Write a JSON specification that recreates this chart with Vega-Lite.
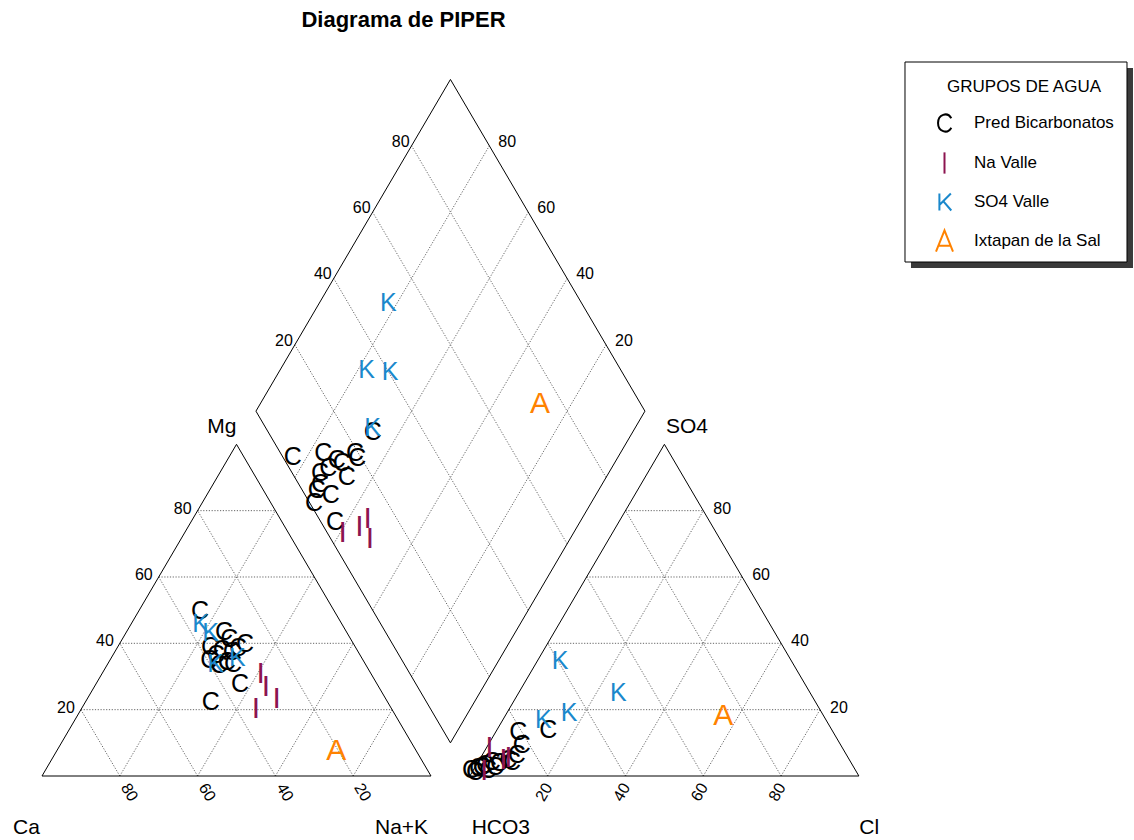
{
  "$schema": "https://vega.github.io/schema/vega-lite/v6.json",
  "width": 1134,
  "height": 800,
  "autosize": "none",
  "padding": {"top": 40, "left": 0, "right": 0, "bottom": 0},
  "background": "white",
  "title": {
    "text": "Diagrama de PIPER",
    "anchor": "middle",
    "frame": "group",
    "dx": -163.5,
    "offset": -9,
    "baseline": "alphabetic",
    "font": "Liberation Sans",
    "fontSize": 22,
    "fontWeight": "bold",
    "color": "#000000"
  },
  "datasets": {
    "muestras": [
      {"grupo": "Pred Bicarbonatos", "letra": "C", "x": 40.62, "y": 43.16},
      {"grupo": "Pred Bicarbonatos", "letra": "C", "x": 46.79, "y": 37.52},
      {"grupo": "Pred Bicarbonatos", "letra": "C", "x": 48.15, "y": 35.69},
      {"grupo": "Pred Bicarbonatos", "letra": "C", "x": 52.19, "y": 34.46},
      {"grupo": "Pred Bicarbonatos", "letra": "C", "x": 50.39, "y": 33.42},
      {"grupo": "Pred Bicarbonatos", "letra": "C", "x": 43.19, "y": 33.60},
      {"grupo": "Pred Bicarbonatos", "letra": "C", "x": 46.20, "y": 32.90},
      {"grupo": "Pred Bicarbonatos", "letra": "C", "x": 48.77, "y": 32.45},
      {"grupo": "Pred Bicarbonatos", "letra": "C", "x": 43.01, "y": 30.29},
      {"grupo": "Pred Bicarbonatos", "letra": "C", "x": 47.48, "y": 29.84},
      {"grupo": "Pred Bicarbonatos", "letra": "C", "x": 44.73, "y": 31.59},
      {"grupo": "Pred Bicarbonatos", "letra": "C", "x": 49.10, "y": 29.24},
      {"grupo": "Pred Bicarbonatos", "letra": "C", "x": 50.90, "y": 24.02},
      {"grupo": "Pred Bicarbonatos", "letra": "C", "x": 43.37, "y": 19.40},
      {"grupo": "Pred Bicarbonatos", "letra": "C", "x": 45.50, "y": 28.98},
      {"grupo": "Pred Bicarbonatos", "letra": "C", "x": 64.45, "y": 83.21},
      {"grupo": "Pred Bicarbonatos", "letra": "C", "x": 85.01, "y": 89.90},
      {"grupo": "Pred Bicarbonatos", "letra": "C", "x": 72.31, "y": 84.26},
      {"grupo": "Pred Bicarbonatos", "letra": "C", "x": 75.76, "y": 82.51},
      {"grupo": "Pred Bicarbonatos", "letra": "C", "x": 77.04, "y": 81.80},
      {"grupo": "Pred Bicarbonatos", "letra": "C", "x": 80.46, "y": 84.41},
      {"grupo": "Pred Bicarbonatos", "letra": "C", "x": 81.05, "y": 82.95},
      {"grupo": "Pred Bicarbonatos", "letra": "C", "x": 78.33, "y": 78.15},
      {"grupo": "Pred Bicarbonatos", "letra": "C", "x": 73.60, "y": 80.34},
      {"grupo": "Pred Bicarbonatos", "letra": "C", "x": 71.47, "y": 79.03},
      {"grupo": "Pred Bicarbonatos", "letra": "C", "x": 71.47, "y": 76.24},
      {"grupo": "Pred Bicarbonatos", "letra": "C", "x": 74.22, "y": 73.37},
      {"grupo": "Pred Bicarbonatos", "letra": "C", "x": 70.62, "y": 74.67},
      {"grupo": "Pred Bicarbonatos", "letra": "C", "x": 69.92, "y": 71.20},
      {"grupo": "Pred Bicarbonatos", "letra": "C", "x": 75.32, "y": 66.40},
      {"grupo": "Pred Bicarbonatos", "letra": "C", "x": 122.44, "y": 11.49},
      {"grupo": "Pred Bicarbonatos", "letra": "C", "x": 130.15, "y": 12.01},
      {"grupo": "Pred Bicarbonatos", "letra": "C", "x": 123.32, "y": 8.09},
      {"grupo": "Pred Bicarbonatos", "letra": "C", "x": 122.03, "y": 5.48},
      {"grupo": "Pred Bicarbonatos", "letra": "C", "x": 119.87, "y": 4.18},
      {"grupo": "Pred Bicarbonatos", "letra": "C", "x": 117.48, "y": 3.39},
      {"grupo": "Pred Bicarbonatos", "letra": "C", "x": 115.60, "y": 3.66},
      {"grupo": "Pred Bicarbonatos", "letra": "C", "x": 113.88, "y": 2.87},
      {"grupo": "Pred Bicarbonatos", "letra": "C", "x": 112.08, "y": 2.09},
      {"grupo": "Pred Bicarbonatos", "letra": "C", "x": 110.28, "y": 1.57},
      {"grupo": "Pred Bicarbonatos", "letra": "C", "x": 111.31, "y": 1.04},
      {"grupo": "Pred Bicarbonatos", "letra": "C", "x": 113.03, "y": 2.35},
      {"grupo": "Pred Bicarbonatos", "letra": "C", "x": 114.65, "y": 1.57},
      {"grupo": "Pred Bicarbonatos", "letra": "C", "x": 116.45, "y": 2.35},
      {"grupo": "Pred Bicarbonatos", "letra": "C", "x": 120.82, "y": 3.66},
      {"grupo": "Na Valle", "letra": "I", "x": 56.22, "y": 26.63},
      {"grupo": "Na Valle", "letra": "I", "x": 57.58, "y": 23.32},
      {"grupo": "Na Valle", "letra": "I", "x": 60.33, "y": 20.03},
      {"grupo": "Na Valle", "letra": "I", "x": 55.01, "y": 17.57},
      {"grupo": "Na Valle", "letra": "I", "x": 77.30, "y": 63.52},
      {"grupo": "Na Valle", "letra": "I", "x": 81.57, "y": 64.93},
      {"grupo": "Na Valle", "letra": "I", "x": 83.73, "y": 67.02},
      {"grupo": "Na Valle", "letra": "I", "x": 84.32, "y": 61.80},
      {"grupo": "Na Valle", "letra": "I", "x": 114.99, "y": 7.31},
      {"grupo": "Na Valle", "letra": "I", "x": 113.70, "y": 1.31},
      {"grupo": "Na Valle", "letra": "I", "x": 118.59, "y": 4.18},
      {"grupo": "Na Valle", "letra": "I", "x": 119.92, "y": 4.70},
      {"grupo": "SO4 Valle", "letra": "K", "x": 40.80, "y": 39.69},
      {"grupo": "SO4 Valle", "letra": "K", "x": 43.37, "y": 37.26},
      {"grupo": "SO4 Valle", "letra": "K", "x": 44.65, "y": 29.24},
      {"grupo": "SO4 Valle", "letra": "K", "x": 50.21, "y": 30.73},
      {"grupo": "SO4 Valle", "letra": "K", "x": 89.02, "y": 123.50},
      {"grupo": "SO4 Valle", "letra": "K", "x": 83.47, "y": 106.01},
      {"grupo": "SO4 Valle", "letra": "K", "x": 89.46, "y": 105.40},
      {"grupo": "SO4 Valle", "letra": "K", "x": 85.01, "y": 90.78},
      {"grupo": "SO4 Valle", "letra": "K", "x": 133.16, "y": 30.10},
      {"grupo": "SO4 Valle", "letra": "K", "x": 148.15, "y": 21.75},
      {"grupo": "SO4 Valle", "letra": "K", "x": 135.48, "y": 16.53},
      {"grupo": "SO4 Valle", "letra": "K", "x": 128.87, "y": 14.62},
      {"grupo": "Ixtapan de la Sal", "letra": "A", "x": 75.66, "y": 6.53},
      {"grupo": "Ixtapan de la Sal", "letra": "A", "x": 128.02, "y": 97.13},
      {"grupo": "Ixtapan de la Sal", "letra": "A", "x": 175.14, "y": 15.67}
    ],
    "lineas": [
      {"tipo": "borde", "x": 0, "y": 0, "x2": 100, "y2": 0},
      {"tipo": "borde", "x": 0, "y": 0, "x2": 50, "y2": 86.6025},
      {"tipo": "borde", "x": 100, "y": 0, "x2": 50, "y2": 86.6025},
      {"tipo": "borde", "x": 110, "y": 0, "x2": 210, "y2": 0},
      {"tipo": "borde", "x": 110, "y": 0, "x2": 160, "y2": 86.6025},
      {"tipo": "borde", "x": 210, "y": 0, "x2": 160, "y2": 86.6025},
      {"tipo": "borde", "x": 105, "y": 8.6603, "x2": 55, "y2": 95.2628},
      {"tipo": "borde", "x": 55, "y": 95.2628, "x2": 105, "y2": 181.8653},
      {"tipo": "borde", "x": 105, "y": 181.8653, "x2": 155, "y2": 95.2628},
      {"tipo": "borde", "x": 155, "y": 95.2628, "x2": 105, "y2": 8.6603},
      {"tipo": "rejilla", "x": 10, "y": 17.3205, "x2": 90, "y2": 17.3205},
      {"tipo": "rejilla", "x": 20, "y": 34.641, "x2": 80, "y2": 34.641},
      {"tipo": "rejilla", "x": 30, "y": 51.9615, "x2": 70, "y2": 51.9615},
      {"tipo": "rejilla", "x": 40, "y": 69.282, "x2": 60, "y2": 69.282},
      {"tipo": "rejilla", "x": 20, "y": 0, "x2": 60, "y2": 69.282},
      {"tipo": "rejilla", "x": 40, "y": 0, "x2": 70, "y2": 51.9615},
      {"tipo": "rejilla", "x": 60, "y": 0, "x2": 80, "y2": 34.641},
      {"tipo": "rejilla", "x": 80, "y": 0, "x2": 90, "y2": 17.3205},
      {"tipo": "rejilla", "x": 80, "y": 0, "x2": 40, "y2": 69.282},
      {"tipo": "rejilla", "x": 60, "y": 0, "x2": 30, "y2": 51.9615},
      {"tipo": "rejilla", "x": 40, "y": 0, "x2": 20, "y2": 34.641},
      {"tipo": "rejilla", "x": 20, "y": 0, "x2": 10, "y2": 17.3205},
      {"tipo": "rejilla", "x": 120, "y": 17.3205, "x2": 200, "y2": 17.3205},
      {"tipo": "rejilla", "x": 130, "y": 34.641, "x2": 190, "y2": 34.641},
      {"tipo": "rejilla", "x": 140, "y": 51.9615, "x2": 180, "y2": 51.9615},
      {"tipo": "rejilla", "x": 150, "y": 69.282, "x2": 170, "y2": 69.282},
      {"tipo": "rejilla", "x": 130, "y": 0, "x2": 170, "y2": 69.282},
      {"tipo": "rejilla", "x": 150, "y": 0, "x2": 180, "y2": 51.9615},
      {"tipo": "rejilla", "x": 170, "y": 0, "x2": 190, "y2": 34.641},
      {"tipo": "rejilla", "x": 190, "y": 0, "x2": 200, "y2": 17.3205},
      {"tipo": "rejilla", "x": 190, "y": 0, "x2": 150, "y2": 69.282},
      {"tipo": "rejilla", "x": 170, "y": 0, "x2": 140, "y2": 51.9615},
      {"tipo": "rejilla", "x": 150, "y": 0, "x2": 130, "y2": 34.641},
      {"tipo": "rejilla", "x": 130, "y": 0, "x2": 120, "y2": 17.3205},
      {"tipo": "rejilla", "x": 95, "y": 25.9808, "x2": 145, "y2": 112.5833},
      {"tipo": "rejilla", "x": 85, "y": 43.3013, "x2": 135, "y2": 129.9038},
      {"tipo": "rejilla", "x": 75, "y": 60.6218, "x2": 125, "y2": 147.2243},
      {"tipo": "rejilla", "x": 65, "y": 77.9423, "x2": 115, "y2": 164.5448},
      {"tipo": "rejilla", "x": 115, "y": 25.9808, "x2": 65, "y2": 112.5833},
      {"tipo": "rejilla", "x": 125, "y": 43.3013, "x2": 75, "y2": 129.9038},
      {"tipo": "rejilla", "x": 135, "y": 60.6218, "x2": 85, "y2": 147.2243},
      {"tipo": "rejilla", "x": 145, "y": 77.9423, "x2": 95, "y2": 164.5448}
    ],
    "marcas": [
      {"lado": "izq", "x": 10, "y": 17.3205, "texto": "20"},
      {"lado": "izq", "x": 20, "y": 34.641, "texto": "40"},
      {"lado": "izq", "x": 30, "y": 51.9615, "texto": "60"},
      {"lado": "izq", "x": 40, "y": 69.282, "texto": "80"},
      {"lado": "rombo_izq", "x": 65, "y": 112.5833, "texto": "20"},
      {"lado": "rombo_izq", "x": 75, "y": 129.9038, "texto": "40"},
      {"lado": "rombo_izq", "x": 85, "y": 147.2243, "texto": "60"},
      {"lado": "rombo_izq", "x": 95, "y": 164.5448, "texto": "80"},
      {"lado": "der", "x": 200, "y": 17.3205, "texto": "20"},
      {"lado": "der", "x": 190, "y": 34.641, "texto": "40"},
      {"lado": "der", "x": 180, "y": 51.9615, "texto": "60"},
      {"lado": "der", "x": 170, "y": 69.282, "texto": "80"},
      {"lado": "rombo_der", "x": 145, "y": 112.5833, "texto": "20"},
      {"lado": "rombo_der", "x": 135, "y": 129.9038, "texto": "40"},
      {"lado": "rombo_der", "x": 125, "y": 147.2243, "texto": "60"},
      {"lado": "rombo_der", "x": 115, "y": 164.5448, "texto": "80"},
      {"lado": "base_izq", "x": 20, "y": 0, "texto": "80"},
      {"lado": "base_izq", "x": 40, "y": 0, "texto": "60"},
      {"lado": "base_izq", "x": 60, "y": 0, "texto": "40"},
      {"lado": "base_izq", "x": 80, "y": 0, "texto": "20"},
      {"lado": "base_der", "x": 130, "y": 0, "texto": "20"},
      {"lado": "base_der", "x": 150, "y": 0, "texto": "40"},
      {"lado": "base_der", "x": 170, "y": 0, "texto": "60"},
      {"lado": "base_der", "x": 190, "y": 0, "texto": "80"}
    ],
    "vertices": [
      {"texto": "Ca", "x": -7.455, "y": -15.144},
      {"texto": "Na+K", "x": 85.6, "y": -15.144},
      {"texto": "HCO3", "x": 110.46, "y": -15.144},
      {"texto": "Cl", "x": 210.1, "y": -15.144},
      {"texto": "Mg", "x": 42.49, "y": 89.48},
      {"texto": "SO4", "x": 160.41, "y": 89.48}
    ],
    "marco": [
      {"parte": "sombra", "x": 223.39, "y": 184.86, "x2": 280.46, "y2": 132.64},
      {"parte": "marco", "x": 221.85, "y": 186.42, "x2": 278.92, "y2": 134.2}
    ]
  },
  "encoding": {
    "x": {"field": "x", "type": "quantitative", "axis": null, "scale": {"domain": [-10.797, 280.72], "nice": false, "zero": false}},
    "y": {"field": "y", "type": "quantitative", "axis": null, "scale": {"domain": [-16.71, 192.167], "nice": false, "zero": false}}
  },
  "layer": [
    {
      "data": {"name": "lineas"},
      "transform": [{"filter": "datum.tipo === 'rejilla'"}],
      "mark": {"type": "rule", "stroke": "#555555", "strokeWidth": 0.9, "strokeDash": [1.2, 1.6]},
      "encoding": {"x2": {"field": "x2"}, "y2": {"field": "y2"}}
    },
    {
      "data": {"name": "lineas"},
      "transform": [{"filter": "datum.tipo === 'borde'"}],
      "mark": {"type": "rule", "stroke": "#000000", "strokeWidth": 1},
      "encoding": {"x2": {"field": "x2"}, "y2": {"field": "y2"}}
    },
    {
      "data": {"name": "marcas"},
      "transform": [{"filter": "datum.lado === 'izq'"}],
      "mark": {"type": "text", "font": "Liberation Sans", "fontSize": 16, "align": "right", "baseline": "middle", "dx": -6, "dy": -2, "color": "#000000"},
      "encoding": {"text": {"field": "texto"}}
    },
    {
      "data": {"name": "marcas"},
      "transform": [{"filter": "datum.lado === 'rombo_izq'"}],
      "mark": {"type": "text", "font": "Liberation Sans", "fontSize": 16, "align": "right", "baseline": "middle", "dx": -2, "dy": -4, "color": "#000000"},
      "encoding": {"text": {"field": "texto"}}
    },
    {
      "data": {"name": "marcas"},
      "transform": [{"filter": "datum.lado === 'der'"}],
      "mark": {"type": "text", "font": "Liberation Sans", "fontSize": 16, "align": "left", "baseline": "middle", "dx": 10, "dy": -2, "color": "#000000"},
      "encoding": {"text": {"field": "texto"}}
    },
    {
      "data": {"name": "marcas"},
      "transform": [{"filter": "datum.lado === 'rombo_der'"}],
      "mark": {"type": "text", "font": "Liberation Sans", "fontSize": 16, "align": "left", "baseline": "middle", "dx": 9, "dy": -4, "color": "#000000"},
      "encoding": {"text": {"field": "texto"}}
    },
    {
      "data": {"name": "marcas"},
      "transform": [{"filter": "datum.lado === 'base_izq'"}],
      "mark": {"type": "text", "font": "Liberation Sans", "fontSize": 16, "align": "left", "baseline": "middle", "angle": 60, "dx": 10, "dy": 0, "color": "#000000"},
      "encoding": {"text": {"field": "texto"}}
    },
    {
      "data": {"name": "marcas"},
      "transform": [{"filter": "datum.lado === 'base_der'"}],
      "mark": {"type": "text", "font": "Liberation Sans", "fontSize": 16, "align": "right", "baseline": "middle", "angle": -60, "dx": -7, "dy": 5, "color": "#000000"},
      "encoding": {"text": {"field": "texto"}}
    },
    {
      "data": {"name": "vertices"},
      "mark": {"type": "text", "font": "Liberation Sans", "fontSize": 21, "align": "left", "baseline": "alphabetic", "color": "#000000"},
      "encoding": {"text": {"field": "texto"}}
    },
    {
      "data": {"name": "muestras"},
      "transform": [{"filter": {"field": "letra", "oneOf": ["C", "K"]}}],
      "mark": {"type": "text", "font": "Liberation Sans", "fontSize": 25, "align": "center", "baseline": "middle"},
      "encoding": {
        "text": {"field": "letra"},
        "fill": {
          "field": "grupo", "type": "nominal", "legend": null,
          "scale": {"domain": ["Ixtapan de la Sal", "Na Valle", "Pred Bicarbonatos", "SO4 Valle"], "range": ["#ff8200", "#8c1450", "#000000", "#1a88cc"]}
        }
      }
    },
    {
      "data": {"name": "muestras"},
      "transform": [{"filter": {"field": "letra", "oneOf": ["I", "A"]}}],
      "mark": {"type": "text", "font": "Liberation Sans", "fontSize": 30, "align": "center", "baseline": "middle"},
      "encoding": {
        "text": {"field": "letra"},
        "fill": {
          "field": "grupo", "type": "nominal", "legend": null,
          "scale": {"domain": ["Ixtapan de la Sal", "Na Valle", "Pred Bicarbonatos", "SO4 Valle"], "range": ["#ff8200", "#8c1450", "#000000", "#1a88cc"]}
        }
      }
    },
    {
      "data": {"name": "marco"},
      "transform": [{"filter": "datum.parte === 'sombra'"}],
      "mark": {"type": "rect", "fill": "#3a3a3a"},
      "encoding": {"x2": {"field": "x2"}, "y2": {"field": "y2"}}
    },
    {
      "data": {"name": "marco"},
      "transform": [{"filter": "datum.parte === 'marco'"}],
      "mark": {"type": "rect", "fill": "#ffffff", "stroke": "#000000", "strokeWidth": 1},
      "encoding": {"x2": {"field": "x2"}, "y2": {"field": "y2"}}
    },
    {
      "data": {"name": "muestras"},
      "mark": {"type": "point", "filled": false, "opacity": 0},
      "encoding": {
        "color": {
          "field": "grupo", "type": "nominal", "title": "GRUPOS DE AGUA",
          "scale": {"domain": ["Pred Bicarbonatos", "Na Valle", "SO4 Valle", "Ixtapan de la Sal"], "range": ["#000000", "#8c1450", "#1a88cc", "#ff8200"]}
        },
        "shape": {
          "field": "grupo", "type": "nominal", "title": "GRUPOS DE AGUA",
          "scale": {
            "domain": ["Pred Bicarbonatos", "Na Valle", "SO4 Valle", "Ixtapan de la Sal"],
            "range": [
              "M0.8 -0.55 A0.85 1 0 1 0 0.8 0.55",
              "M0 -1.25 L0 1.25",
              "M-0.6 -1 L-0.6 1 M0.75 -1 L-0.6 0.35 M-0.15 -0.1 L0.8 1",
              "M-1 1.25 L0 -1.25 L1 1.25 M-0.73 0.57 L0.73 0.57"
            ]
          }
        }
      }
    }
  ],
  "config": {
    "view": {"stroke": null},
    "text": {"font": "Liberation Sans"},
    "legend": {
      "orient": "none",
      "legendX": 935,
      "legendY": 39,
      "padding": 0,
      "titleFont": "Liberation Sans",
      "titleFontSize": 17,
      "titleFontWeight": "normal",
      "titleColor": "#000000",
      "titleAnchor": "middle",
      "titlePadding": 17.5,
      "labelFont": "Liberation Sans",
      "labelFontSize": 17,
      "labelColor": "#000000",
      "labelOffset": 20,
      "labelLimit": 220,
      "rowPadding": 11,
      "symbolSize": 289,
      "symbolStrokeWidth": 2,
      "symbolOpacity": 1
    }
  }
}
